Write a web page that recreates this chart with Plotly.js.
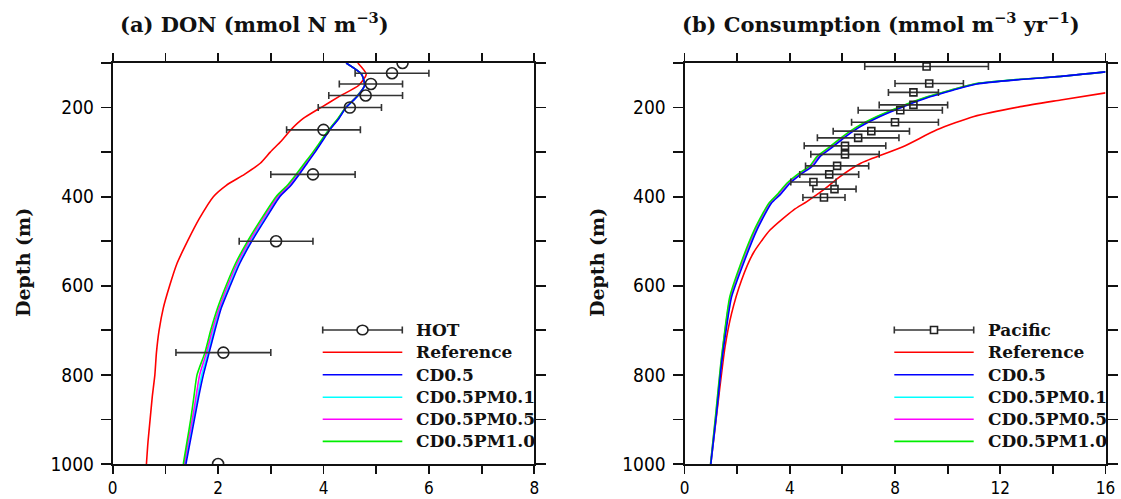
<!DOCTYPE html>
<html>
<head>
<meta charset="utf-8">
<script src="https://cdn.plot.ly/plotly-3.0.1.min.js"></script>
<style>html,body{margin:0;padding:0;background:#fff;}#chart{width:1121px;height:499px;}</style>
</head>
<body>
<div id="chart"></div>
<script>
// ---------- Panel (a): DON ----------
const hotDepth = [100, 123, 147, 173, 200, 250, 350, 500, 750, 1000];
const hotDON   = [5.5, 5.3, 4.9, 4.8, 4.5, 4.0, 3.8, 3.1, 2.1, 2.0];
const hotErr   = [NaN, 0.7, 0.6, 0.7, 0.6, 0.7, 0.8, 0.7, 0.9, NaN];

const depthA = [100,125,150,175,200,225,250,275,300,325,350,375,400,450,500,550,600,650,700,750,800,850,900,950,1000];
const donRef  = [4.65,4.81,4.67,4.30,3.95,3.61,3.38,3.20,2.99,2.80,2.50,2.15,1.91,1.64,1.42,1.22,1.08,0.96,0.88,0.83,0.80,0.75,0.71,0.67,0.64];
const donCD   = [4.43,4.72,4.78,4.64,4.43,4.29,4.12,3.98,3.84,3.69,3.54,3.38,3.17,2.90,2.64,2.41,2.23,2.06,1.94,1.83,1.72,1.63,1.55,1.47,1.39];
const donPM01 = [4.43,4.72,4.78,4.64,4.43,4.28,4.11,3.97,3.83,3.67,3.52,3.36,3.15,2.88,2.62,2.39,2.21,2.04,1.92,1.81,1.69,1.61,1.53,1.45,1.37];
const donPM05 = [4.43,4.72,4.78,4.63,4.42,4.28,4.11,3.96,3.82,3.66,3.50,3.34,3.13,2.85,2.59,2.36,2.18,2.02,1.89,1.78,1.65,1.58,1.51,1.43,1.36];
const donPM10 = [4.43,4.72,4.78,4.63,4.42,4.27,4.10,3.95,3.80,3.64,3.48,3.31,3.10,2.82,2.56,2.33,2.15,1.99,1.86,1.75,1.60,1.54,1.48,1.41,1.34];

// ---------- Panel (b): Consumption ----------
const pacDepth = [108, 146, 166, 194, 206, 233, 253, 268, 286, 305, 331, 350, 367, 383, 402];
const pacCons  = [9.2, 9.3, 8.7, 8.7, 8.2, 8.0, 7.1, 6.6, 6.1, 6.1, 5.8, 5.5, 4.9, 5.7, 5.3];
const pacErr   = [2.35, 1.3, 0.95, 1.3, 1.6, 1.65, 1.45, 1.55, 1.55, 1.3, 1.2, 1.12, 0.86, 0.82, 0.8];

const depthBRef = [167,183,198,220,250,288,325,355,385,411,430,475,527,587,662,737,850,900,1000];
const consRef   = [16.0,14.3,12.76,11.0,9.59,8.3,6.7,5.91,5.28,4.65,4.14,3.25,2.61,2.17,1.79,1.54,1.3,1.2,1.0];
const depthBCD  = [120,130,137,147,161,176,198,220,245,269,290,310,330,351,370,396,415,475,550,625,692,774,886,1000];
const consCD    = [16.0,14.3,12.76,11.1,10.2,9.33,8.32,7.43,6.62,6.04,5.6,5.15,4.9,4.39,4.01,3.63,3.3,2.75,2.24,1.79,1.6,1.41,1.22,1.0];
const consPM01  = [16.0,14.3,12.7,11.05,10.15,9.28,8.27,7.38,6.57,5.99,5.55,5.1,4.85,4.34,3.96,3.58,3.26,2.71,2.2,1.76,1.58,1.4,1.21,1.0];
const consPM05  = [16.0,14.3,12.68,11.02,10.12,9.25,8.24,7.35,6.54,5.96,5.52,5.07,4.82,4.31,3.93,3.55,3.23,2.68,2.17,1.74,1.56,1.39,1.2,0.99];
const consPM10  = [16.0,14.3,12.65,11.0,10.1,9.22,8.2,7.31,6.5,5.92,5.48,5.03,4.78,4.27,3.89,3.51,3.2,2.65,2.14,1.72,1.55,1.38,1.19,0.99];

// ---------- Labels ----------
const seriesNames = ['Reference', 'CD0.5', 'CD0.5PM0.1', 'CD0.5PM0.5', 'CD0.5PM1.0'];
const seriesColors = ['#ff0000', '#0000ff', '#00ffff', '#ff00ff', '#00ee00'];
const obsNames = ['HOT', 'Pacific'];
const titleA = '(a) DON (mmol N m<sup>−3</sup>)';
const titleB = '(b) Consumption (mmol m<sup>−3</sup> yr<sup>−1</sup>)';
const yTitle = 'Depth (m)';
const yTickVals = [200, 400, 600, 800, 1000];
const xaTickVals = [0, 2, 4, 6, 8];
const xbTickVals = [0, 4, 8, 12, 16];

// ---------- Geometry (pixels) ----------
const W = 1121, H = 499;
const px = v => v / W;
const py = v => 1 - v / H;

const yTickFont = {family: 'Liberation Sans Narrow, DejaVu Sans Condensed, Arial Narrow, sans-serif', size: 19, color: '#000'};
const xTickFont = {family: 'Liberation Sans Narrow, DejaVu Sans Condensed, Arial Narrow, sans-serif', size: 17, color: '#000'};
const serifBold = {family: 'DejaVu Serif, serif', size: 17, color: '#111', weight: 'bold'};

function lineTrace(x, y, name, color, xa, ya) {
  return {x: x, y: y, type: 'scatter', mode: 'lines', name: name, xaxis: xa, yaxis: ya,
    line: {color: color, width: 1.6, shape: 'spline', smoothing: 0.6}, showlegend: false, hoverinfo: 'skip'};
}
function obsTrace(x, y, err, name, symbol, size, xa, ya) {
  return {x: x, y: y, type: 'scatter', mode: 'markers', name: name, xaxis: xa, yaxis: ya,
    marker: {symbol: symbol, size: size, color: 'rgba(255,255,255,0)', line: {color: '#222', width: 1.6}},
    error_x: {type: 'data', array: err, visible: true, color: '#333', thickness: 1.6, width: 3.5},
    showlegend: false, hoverinfo: 'skip'};
}

const traces = [
  lineTrace(donRef,  depthA, seriesNames[0], seriesColors[0], 'x', 'y'),
  lineTrace(donPM01, depthA, seriesNames[2], seriesColors[2], 'x', 'y'),
  lineTrace(donPM05, depthA, seriesNames[3], seriesColors[3], 'x', 'y'),
  lineTrace(donPM10, depthA, seriesNames[4], seriesColors[4], 'x', 'y'),
  lineTrace(donCD,   depthA, seriesNames[1], seriesColors[1], 'x', 'y'),
  obsTrace(hotDON, hotDepth, hotErr, obsNames[0], 'circle', 11, 'x', 'y'),
  lineTrace(consRef,  depthBRef, seriesNames[0], seriesColors[0], 'x2', 'y2'),
  lineTrace(consPM01, depthBCD, seriesNames[2], seriesColors[2], 'x2', 'y2'),
  lineTrace(consPM05, depthBCD, seriesNames[3], seriesColors[3], 'x2', 'y2'),
  lineTrace(consPM10, depthBCD, seriesNames[4], seriesColors[4], 'x2', 'y2'),
  lineTrace(consCD,   depthBCD, seriesNames[1], seriesColors[1], 'x2', 'y2'),
  obsTrace(pacCons, pacDepth, pacErr, obsNames[1], 'square', 7, 'x2', 'y2')
];

function xAxis(domain, range, tv, minorStep) {
  return {domain: domain, range: range, tickmode: 'array', tickvals: tv,
    ticks: 'outside', ticklen: 8, tickwidth: 1.8, tickcolor: '#111',
    minor: {tick0: 0, dtick: minorStep, ticks: 'outside', ticklen: 8, tickwidth: 1.8, tickcolor: '#111', showgrid: false},
    showline: true, linecolor: '#111', linewidth: 2, mirror: 'ticks',
    showgrid: false, zeroline: false, tickfont: xTickFont, ticklabelstandoff: 0, fixedrange: true};
}
function yAxis(anchor) {
  return {domain: [(H - 464) / H, (H - 63) / H], range: [1000, 100], anchor: anchor,
    tickmode: 'array', tickvals: yTickVals,
    ticks: 'outside', ticklen: 10, tickwidth: 1.8, tickcolor: '#111',
    minor: {tick0: 100, dtick: 100, ticks: 'outside', ticklen: 10, tickwidth: 1.8, tickcolor: '#111', showgrid: false},
    showline: true, linecolor: '#111', linewidth: 2, mirror: 'ticks',
    showgrid: false, zeroline: false, tickfont: yTickFont, ticklabelstandoff: 3, fixedrange: true};
}

// ---------- Legends drawn as layout decorations ----------
const shapes = [];
const annotations = [];
const rowY = [330, 352.3, 374.7, 397.2, 419.2, 441.4];
function addLegend(x0, x1, textX, obsName, obsIsCircle) {
  const y0 = rowY[0];
  shapes.push({type: 'line', xref: 'paper', yref: 'paper', x0: px(x0), x1: px(x1), y0: py(y0), y1: py(y0), line: {color: '#333', width: 1.6}});
  shapes.push({type: 'line', xref: 'paper', yref: 'paper', x0: px(x0), x1: px(x0), y0: py(y0 - 3.5), y1: py(y0 + 3.5), line: {color: '#333', width: 1.6}});
  shapes.push({type: 'line', xref: 'paper', yref: 'paper', x0: px(x1), x1: px(x1), y0: py(y0 - 3.5), y1: py(y0 + 3.5), line: {color: '#333', width: 1.6}});
  const mx = (x0 + x1) / 2;
  const r = obsIsCircle ? 5.5 : 3.5;
  shapes.push({type: obsIsCircle ? 'circle' : 'rect', xref: 'paper', yref: 'paper',
    x0: px(mx - r), x1: px(mx + r), y0: py(y0 - (obsIsCircle ? 4.8 : r)), y1: py(y0 + (obsIsCircle ? 4.8 : r)),
    fillcolor: '#fff', line: {color: '#222', width: 1.6}});
  annotations.push({xref: 'paper', yref: 'paper', x: px(textX), y: py(y0), xanchor: 'left', yanchor: 'middle',
    text: obsName, showarrow: false, font: serifBold});
  for (let i = 0; i < seriesNames.length; i++) {
    const yy = rowY[i + 1];
    shapes.push({type: 'line', xref: 'paper', yref: 'paper', x0: px(x0), x1: px(x1), y0: py(yy), y1: py(yy),
      line: {color: seriesColors[i], width: 1.6}});
    annotations.push({xref: 'paper', yref: 'paper', x: px(textX), y: py(yy), xanchor: 'left', yanchor: 'middle',
      text: seriesNames[i], showarrow: false, font: serifBold});
  }
}
addLegend(322.7, 402.3, 414, obsNames[0], true);
addLegend(894.3, 973.7, 986, obsNames[1], false);

const titleFont = {family: 'DejaVu Serif, serif', size: 21, color: '#111', weight: 'bold'};
annotations.push({xref: 'paper', yref: 'paper', x: px(118), y: py(23), xanchor: 'left', yanchor: 'middle', text: titleA, showarrow: false, font: titleFont});
annotations.push({xref: 'paper', yref: 'paper', x: px(680), y: py(23), xanchor: 'left', yanchor: 'middle', text: titleB, showarrow: false, font: titleFont});
const yTitleFont = {family: 'DejaVu Serif, serif', size: 19, color: '#111', weight: 'bold'};
annotations.push({xref: 'paper', yref: 'paper', x: px(23), y: py(263), xanchor: 'center', yanchor: 'middle', textangle: -90, text: yTitle, showarrow: false, font: yTitleFont});
annotations.push({xref: 'paper', yref: 'paper', x: px(597), y: py(263), xanchor: 'center', yanchor: 'middle', textangle: -90, text: yTitle, showarrow: false, font: yTitleFont});

const layout = {
  width: W, height: H,
  margin: {l: 0, r: 0, t: 0, b: 0, pad: 0},
  paper_bgcolor: '#fff', plot_bgcolor: '#fff',
  showlegend: false,
  xaxis: Object.assign(xAxis([112.7 / W, 534.3 / W], [0, 8], xaTickVals, 1), {anchor: 'y'}),
  yaxis: yAxis('x'),
  xaxis2: Object.assign(xAxis([684.5 / W, 1105.5 / W], [0, 16], xbTickVals, 2), {anchor: 'y2'}),
  yaxis2: yAxis('x2'),
  shapes: shapes,
  annotations: annotations
};

Plotly.newPlot('chart', traces, layout, {staticPlot: true, displayModeBar: false});
</script>
</body>
</html>
